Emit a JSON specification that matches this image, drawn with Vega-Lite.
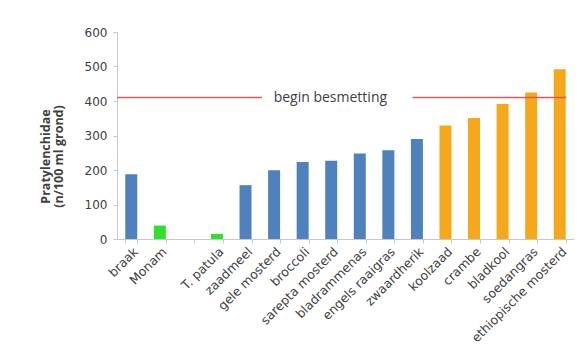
{
  "$schema": "https://vega.github.io/schema/vega-lite/v6.json",
  "width": 457,
  "height": 207,
  "autosize": "none",
  "padding": {"left": 117, "top": 32, "right": 11, "bottom": 110},
  "background": "white",
  "config": {"view": {"stroke": null}, "font": "DejaVu Sans"},
  "encoding": {
    "y": {
      "field": "aantal", "type": "quantitative",
      "scale": {"domain": [0, 600], "nice": false},
      "axis": {"values": [0, 100, 200, 300, 400, 500, 600], "tickCount": 7, "labelOverlap": false, "grid": false, "title": ["Pratylenchidae", "(n/100 ml grond)"], "titleFont": "Open Sans", "titleFontWeight": "bold", "titleFontSize": 12.5, "titleColor": "#404040", "titleAngle": -90, "titleAlign": "center", "titleBaseline": "middle", "titleX": -72, "titleY": 124, "titleLineHeight": 13, "labelFont": "DejaVu Sans", "labelFontSize": 12, "labelColor": "#404040", "domainColor": "#C8C8C8", "tickColor": "#C8C8C8", "tickSize": 4, "labelPadding": 6}
    }
  },
  "layer": [
    {
      "data": {"values": [
        {"gewas": "braak", "aantal": 188, "groep": "neutraal"},
        {"gewas": "Monam", "aantal": 39, "groep": "onderdrukkend"},
        {"gewas": "T. patula", "aantal": 15, "groep": "onderdrukkend"},
        {"gewas": "zaadmeel", "aantal": 156, "groep": "neutraal"},
        {"gewas": "gele mosterd", "aantal": 199, "groep": "neutraal"},
        {"gewas": "broccoli", "aantal": 223, "groep": "neutraal"},
        {"gewas": "sarepta mosterd", "aantal": 227, "groep": "neutraal"},
        {"gewas": "bladrammenas", "aantal": 248, "groep": "neutraal"},
        {"gewas": "engels raaigras", "aantal": 257, "groep": "neutraal"},
        {"gewas": "zwaardherik", "aantal": 290, "groep": "neutraal"},
        {"gewas": "koolzaad", "aantal": 329, "groep": "vermeerderend"},
        {"gewas": "crambe", "aantal": 351, "groep": "vermeerderend"},
        {"gewas": "bladkool", "aantal": 391, "groep": "vermeerderend"},
        {"gewas": "soedangras", "aantal": 425, "groep": "vermeerderend"},
        {"gewas": "ethiopische mosterd", "aantal": 492, "groep": "vermeerderend"}
      ]},
      "mark": {"type": "bar"},
      "encoding": {
        "x": {
          "field": "gewas", "type": "nominal", "sort": null,
          "scale": {"domain": ["braak", "Monam", " ", "T. patula", "zaadmeel", "gele mosterd", "broccoli", "sarepta mosterd", "bladrammenas", "engels raaigras", "zwaardherik", "koolzaad", "crambe", "bladkool", "soedangras", "ethiopische mosterd"], "paddingInner": 0.58, "paddingOuter": 0.29},
          "axis": {"title": null, "labelAngle": -45, "labelFont": "DejaVu Sans", "labelFontSize": 12.5, "labelColor": "#404040", "labelOverlap": false, "domainColor": "#C8C8C8", "tickColor": "#C8C8C8", "tickBand": "extent", "tickSize": 4, "labelPadding": 2}
        },
        "color": {
          "field": "groep", "type": "nominal",
          "scale": {"domain": ["neutraal", "onderdrukkend", "vermeerderend"], "range": ["#4F81BD", "#2FE02F", "#F6A81C"]},
          "legend": null
        }
      }
    },
    {
      "data": {"values": [
        {"pos": 0, "pos2": 5.08, "aantal": 410},
        {"pos": 10.35, "pos2": 15.73, "aantal": 410}
      ]},
      "mark": {"type": "rule", "color": "#D9595B", "strokeWidth": 1.5},
      "encoding": {
        "x": {"field": "pos", "type": "quantitative", "scale": {"domain": [0, 16], "nice": false, "zero": false}, "axis": null},
        "x2": {"field": "pos2"}
      }
    },
    {
      "data": {"values": [
        {"pos": 7.47, "aantal": 410, "label": "begin besmetting"}
      ]},
      "mark": {"type": "text", "font": "Open Sans", "fontSize": 14, "color": "#404040", "align": "center", "baseline": "middle"},
      "encoding": {
        "x": {"field": "pos", "type": "quantitative", "scale": {"domain": [0, 16], "nice": false, "zero": false}, "axis": null},
        "text": {"field": "label"}
      }
    }
  ],
  "resolve": {"scale": {"x": "independent"}}
}
